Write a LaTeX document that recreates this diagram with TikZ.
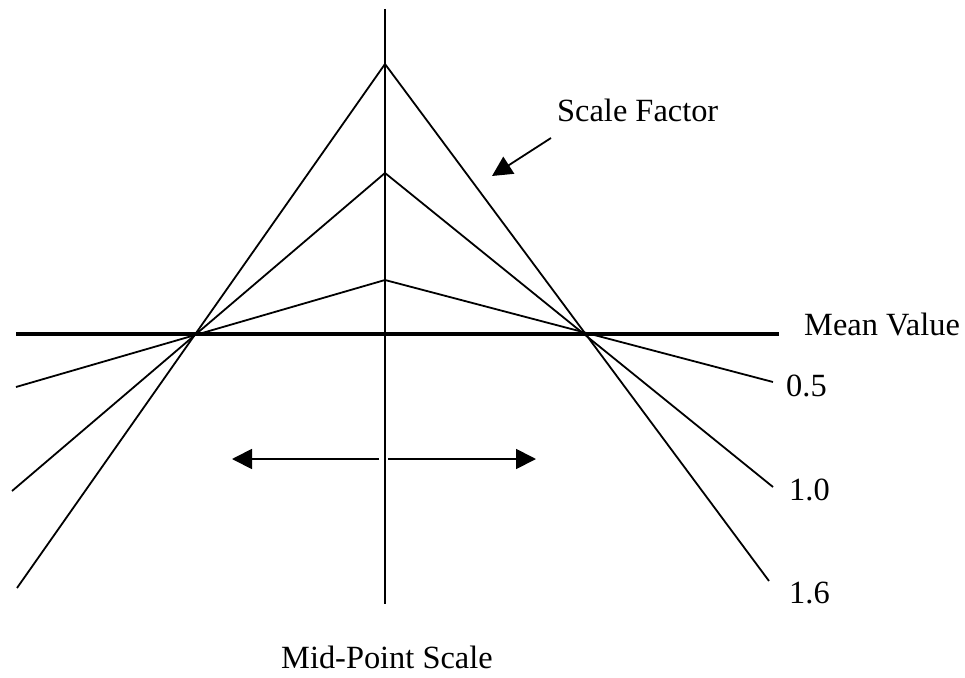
\documentclass[tikz,border=0pt]{standalone}
\usepackage{fontspec}
\setmainfont{Liberation Serif}
\usetikzlibrary{arrows.meta}
\begin{document}
\begin{tikzpicture}[x=1pt,y=-1pt,
  thinline/.style={line width=1.8pt, line cap=butt, line join=miter},
  thickline/.style={line width=3.8pt},
  arrowline/.style={line width=1.8pt, -{Triangle[length=20pt,width=20pt]}},
  lbl/.style={anchor=base west, inner sep=0pt, font=\fontsize{32.4}{37}\selectfont}]
\useasboundingbox (0,0) rectangle (965,677);
% coordinates
\coordinate (vtop) at (385,9);
\coordinate (vbot) at (385,604);
\coordinate (pA) at (385,64);
\coordinate (pB) at (385,173);
\coordinate (pC) at (385,280);
\coordinate (lA) at (17,588);
\coordinate (lB) at (12,491);
\coordinate (lC) at (16,387);
\coordinate (rA) at (769,581);
\coordinate (rB) at (773,487);
\coordinate (rC) at (773,382);
\coordinate (mL) at (16,334);
\coordinate (mR) at (779,334);
\coordinate (aL0) at (379,459);
\coordinate (aL1) at (232,459);
\coordinate (aR0) at (388,459);
\coordinate (aR1) at (536,459);
\coordinate (sf0) at (551,138);
\coordinate (sf1) at (492,176);
% lines
\draw[thinline] (vtop) -- (vbot);
\draw[thickline] (mL) -- (mR);
\draw[thinline] (lA) -- (pA) -- (rA);
\draw[thinline] (lB) -- (pB) -- (rB);
\draw[thinline] (lC) -- (pC) -- (rC);
\draw[arrowline] (aL0) -- (aL1);
\draw[arrowline] (aR0) -- (aR1);
\draw[arrowline] (sf0) -- (sf1);
% labels
\node[lbl] (tsf) at (557,121) {Scale Factor};
\node[lbl] (tmv) at (804,335) {Mean Value};
\node[lbl] (t05) at (786,396) {0.5};
\node[lbl] (t10) at (789,500) {1.0};
\node[lbl] (t16) at (789,603) {1.6};
\node[lbl] (tmp) at (281,668) {Mid-Point Scale};
\end{tikzpicture}
\end{document}
